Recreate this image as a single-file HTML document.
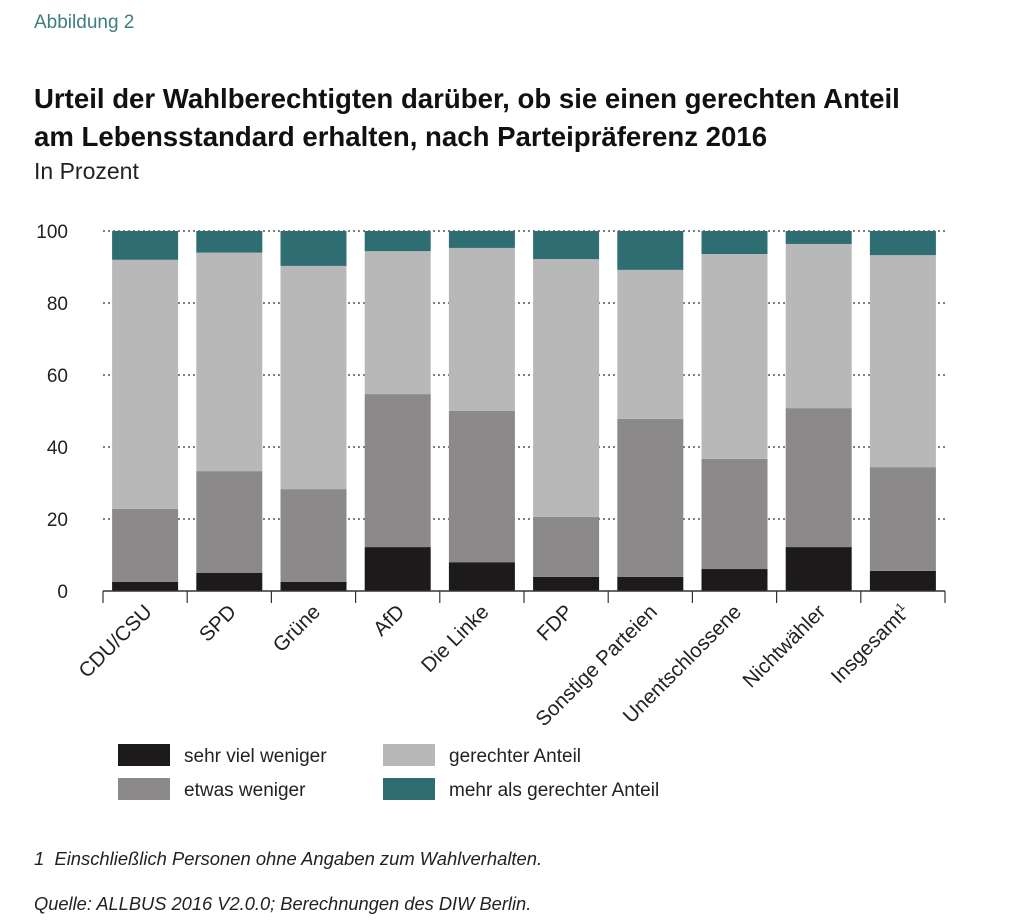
<!DOCTYPE html>
<html><head><meta charset="utf-8">
<style>
body{margin:0;background:#fff;width:1024px;height:922px;overflow:hidden;font-family:"Liberation Sans","DejaVu Sans",sans-serif;}
.t{position:absolute;white-space:nowrap}
</style></head>
<body>
<div class="t" style="left:34px;top:12px;font-size:19px;color:#3d7f80">Abbildung 2</div>
<div class="t" style="left:34px;top:80px;font-size:27.6px;font-weight:bold;color:#111;line-height:38px">Urteil der Wahlberechtigten darüber, ob sie einen gerechten Anteil<br>am Lebensstandard erhalten, nach Parteipräferenz 2016</div>
<div class="t" style="left:34px;top:158px;font-size:23px;color:#222">In Prozent</div>
<svg id="chart" width="1024" height="922" style="position:absolute;left:0;top:0"></svg>
<div class="t" style="left:34px;top:848px;font-size:18.4px;font-style:italic;color:#222">1&nbsp; Einschließlich Personen ohne Angaben zum Wahlverhalten.</div>
<div class="t" style="left:34px;top:893px;font-size:18.3px;font-style:italic;color:#222">Quelle: ALLBUS 2016 V2.0.0; Berechnungen des DIW Berlin.</div>
<script>
const categories=["CDU/CSU","SPD","Grüne","AfD","Die Linke","FDP","Sonstige Parteien","Unentschlossene","Nichtwähler","Insgesamt"];
const sehrVielWeniger=[2.5,5,2.5,12.2,8,3.9,3.9,6.1,12.2,5.6];
const etwasWeniger=[20.3,28.3,25.8,42.5,42,16.7,43.9,30.6,38.6,28.8];
const gerechterAnteil=[69.2,60.7,62,39.7,45.3,71.6,41.4,56.9,45.6,58.9];
const mehrAlsGerecht=[8,6,9.7,5.6,4.7,7.8,10.8,6.4,3.6,6.7];
const yTicks=[0,20,40,60,80,100];
const seriesNames=["sehr viel weniger","etwas weniger","gerechter Anteil","mehr als gerechter Anteil"];
const colors=["#1c1a1b","#8b898a","#b9b8b9","#2e6e72"];
const NS="http://www.w3.org/2000/svg";
const svg=document.getElementById('chart');
const x0=103,step=84.2,bw=66,y0=591,yTop=231;
const y=v=>y0-(v/100)*(y0-yTop);
const xc=i=>x0+step*i+step/2;
function mk(t,a){const e=document.createElementNS(NS,t);for(const k in a)e.setAttribute(k,a[k]);svg.appendChild(e);return e;}
yTicks.forEach(v=>{
  if(v>0){const g=mk('line',{x1:x0,x2:945,y1:y(v),y2:y(v),stroke:'#333','stroke-width':1.2,'stroke-dasharray':'2,3'});
  
  }
  const t=mk('text',{x:68,y:y(v)+7,'text-anchor':'end','font-size':19,fill:'#222','font-family':'Liberation Sans, sans-serif'});
  t.textContent=v;
  
  
});
const series=[sehrVielWeniger,etwasWeniger,gerechterAnteil,mehrAlsGerecht];
categories.forEach((c,i)=>{
  let acc=0;
  series.forEach((s,j)=>{
    const v=s[i];
    const r=mk('rect',{x:xc(i)-bw/2,y:y(acc+v),width:bw,height:y(acc)-y(acc+v),fill:colors[j]});
    
    
    acc+=v;
  });
  const tk=mk('line',{x1:x0+step*(i+1),x2:x0+step*(i+1),y1:y0,y2:y0+12,stroke:'#333','stroke-width':1.2});
  
  
  const tx=xc(i)+8,ty=y0+22;
  const t=mk('text',{x:tx,y:ty,'text-anchor':'end','font-size':20.5,fill:'#222',transform:`rotate(-45 ${tx} ${ty})`,'font-family':'Liberation Sans, sans-serif'});
  t.textContent=c;
  if(c==="Insgesamt"){const s=document.createElementNS(NS,'tspan');s.setAttribute('dy','-8');s.setAttribute('font-size','12');s.textContent='1';t.appendChild(s);}
  
  
});
const tk0=mk('line',{x1:x0,x2:x0,y1:y0,y2:y0+12,stroke:'#333','stroke-width':1.2});


const ax=mk('line',{x1:x0,x2:945,y1:y0,y2:y0,stroke:'#333','stroke-width':1.5});


const lp=[[118,744],[118,778],[383,744],[383,778]];
seriesNames.forEach((n,j)=>{
  const r=mk('rect',{x:lp[j][0],y:lp[j][1],width:52,height:22,fill:colors[j]});
  
  
  const t=mk('text',{x:lp[j][0]+66,y:lp[j][1]+18,'font-size':19,fill:'#222','font-family':'Liberation Sans, sans-serif'});
  t.textContent=n;
  
  
});
</script>
</body></html>
